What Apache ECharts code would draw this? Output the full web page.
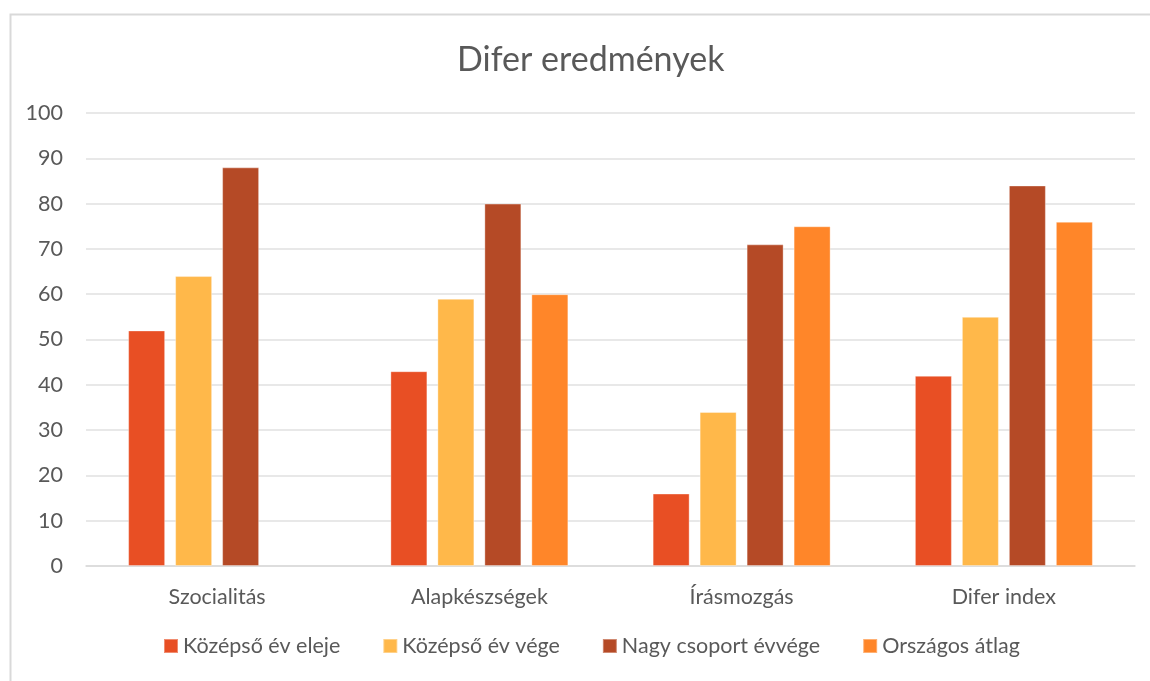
<!DOCTYPE html>
<html><head><meta charset="utf-8">
<script src="https://cdn.jsdelivr.net/npm/echarts@6/dist/echarts.min.js"></script>
<style>html,body{margin:0;padding:0;background:#fff}#c{width:1150px;height:681px}</style>
</head><body><div id="c"></div>
<script>
const categories = ['Szocialitás', 'Alapkészségek', 'Írásmozgás', 'Difer index'];
const seriesNames = ['Középső év eleje', 'Középső év vége', 'Nagy csoport évvége', 'Országos átlag'];
const kozepsoEleje = [52, 43, 16, 42];
const kozepsoVege = [64, 59, 34, 55];
const nagyCsoport = [88, 80, 71, 84];
const orszagos = [null, 60, 75, 76];
const seriesValues = [kozepsoEleje, kozepsoVege, nagyCsoport, orszagos];
const colors = ['#E84F24', '#FFB84A', '#B54A26', '#FF8629'];
const font = 'Lato';
const chart = echarts.init(document.getElementById('c'));
chart.setOption({
  animation: false,
  textStyle: { fontFamily: font },
  graphic: [{ type: 'rect', shape: { x: 10.5, y: 14.5, width: 1200, height: 700 }, style: { fill: 'none', stroke: '#d9d9d9', lineWidth: 2 }, silent: true }],
  title: { text: 'Difer eredmények', left: 452, top: 38, textStyle: { fontFamily: font, fontSize: 34, fontWeight: 'normal', color: '#595959' } },
  legend: { left: 158, bottom: 19, itemWidth: 14, itemHeight: 14, itemGap: 42, icon: 'rect', textStyle: { fontFamily: font, fontSize: 21.5, color: '#595959' }, data: seriesNames },
  grid: { left: 86, right: 15, top: 113, bottom: 115, containLabel: false },
  xAxis: { type: 'category', data: categories, axisTick: { show: false }, axisLine: { lineStyle: { color: '#d9d9d9', width: 1.5 } }, axisLabel: { fontFamily: font, fontSize: 21.5, color: '#595959', margin: 20 } },
  yAxis: { type: 'value', min: 0, max: 100, interval: 10, splitLine: { lineStyle: { color: '#e0e0e0', width: 1.5 } }, axisLine: { show: false }, axisTick: { show: false }, axisLabel: { fontFamily: font, fontSize: 21.5, color: '#595959', margin: 23 } },
  series: seriesValues.map((d, i) => ({ name: seriesNames[i], type: 'bar', data: d, barWidth: 37, barGap: '27%', itemStyle: { color: colors[i], borderColor: 'rgba(255,255,255,0.35)', borderWidth: 1 } }))
});
</script></body></html>
